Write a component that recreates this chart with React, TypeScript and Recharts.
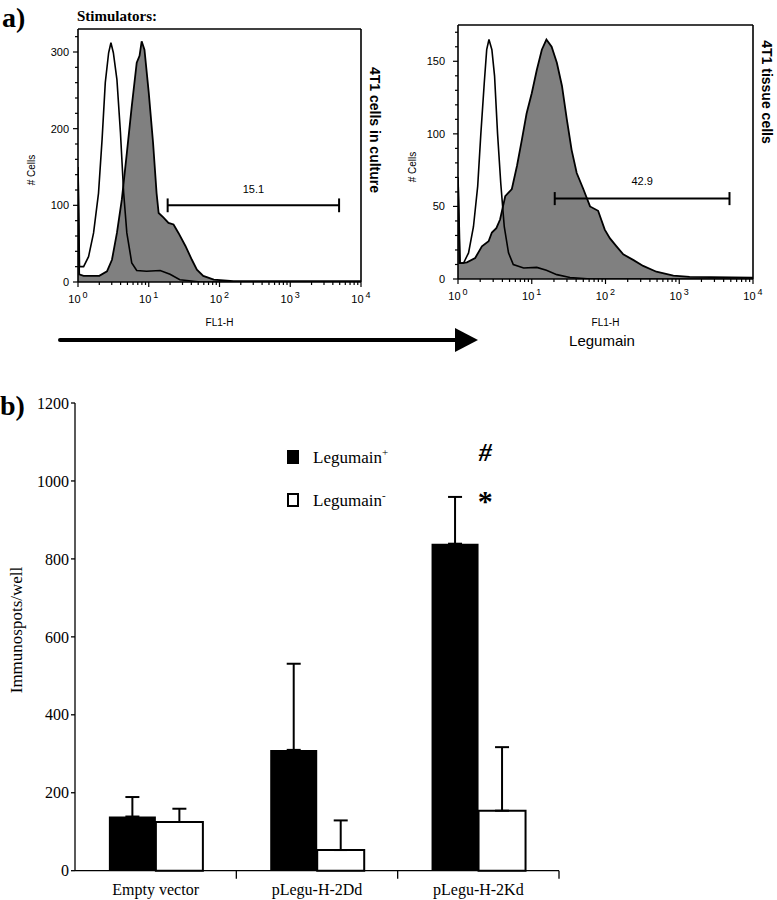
import React from 'react'
import {
  ComposedChart, Area, Line, XAxis, YAxis, ReferenceLine, ReferenceDot,
  BarChart, Bar, ErrorBar, Legend,
} from 'recharts'

const SANS = '"Liberation Sans", Arial, sans-serif'
const SERIF = '"Liberation Serif", "Times New Roman", serif'

// ---- panel a: FACS histograms (FL1-H value, # cells) ----
// 4T1 cells in culture
const cultureCtrlX = [1, 1.05, 1.2, 1.41, 1.66, 1.95, 2.19, 2.43, 2.71, 2.92, 3.16, 3.55, 3.98, 4.42, 4.9, 5.75, 6.76, 9.3, 14.5, 20, 27.5, 54, 10000]
const cultureCtrlY = [150, 20, 20, 33, 64, 116, 186, 260, 299, 312, 299, 264, 195, 116, 64, 25, 15, 14, 15, 10, 3, 0, 0]
const cultureStainX = [1, 1.04, 1.2, 2.0, 2.57, 3.02, 3.55, 4.17, 4.9, 5.75, 6.76, 7.41, 7.94, 8.7, 10, 11.5, 12.9, 13.8, 16.2, 19, 22.4, 26.3, 33, 40.7, 47.9, 58.9, 83, 158, 10000]
const cultureStainY = [150, 10, 8, 8, 14, 29, 64, 108, 168, 229, 286, 295, 314, 303, 247, 182, 116, 90, 84, 77, 75, 64, 47, 29, 16, 8, 3, 1, 1]

// 4T1 tissue cells
const tissueCtrlX = [1, 1.07, 1.19, 1.39, 1.62, 1.85, 2.04, 2.27, 2.45, 2.63, 2.88, 3.13, 3.44, 3.8, 4.24, 4.84, 5.62, 7.76, 11.7, 15.8, 21.9, 33, 63, 10000]
const tissueCtrlY = [70, 11, 11, 18, 36, 64, 100, 135, 158, 165, 158, 140, 100, 66, 36, 18, 10, 7.6, 8, 6, 3, 1, 0, 0]
const tissueStainX = [1, 1.05, 1.13, 1.32, 1.71, 2.11, 2.6, 2.88, 3.31, 3.72, 4.37, 5.37, 6.31, 7.35, 8.51, 10, 11.7, 13.7, 15.8, 18.6, 21.9, 25.7, 29.9, 34.7, 40.7, 50, 61.7, 79.4, 97.7, 115, 141, 174, 240, 324, 490, 832, 1380, 10000]
const tissueStainY = [70, 11, 11, 11.5, 14.5, 22.5, 26, 32, 35, 41, 57, 62, 78, 96, 114, 128, 144, 158, 165, 160, 149, 133, 110, 89, 73, 62, 50, 47, 34, 28, 22.5, 17, 13, 9, 5, 2.3, 1.4, 1]

const decades = [1, 10, 100, 1000, 10000]
const logTicks = decades.flatMap((d, i) =>
  i === decades.length - 1 ? [d] : [1, 2, 3, 4, 5, 6, 7, 8, 9].map((m) => m * d)
)

const cultureYTicks = [0, 20, 40, 60, 80, 100, 120, 140, 160, 180, 200, 220, 240, 260, 280, 300, 320]
const tissueYTicks = [0, 10, 20, 30, 40, 50, 60, 70, 80, 90, 100, 110, 120, 130, 140, 150, 160, 170]

// ---- panel b: ELISPOT ----
const categories = ['Empty vector', 'pLegu-H-2Dd', 'pLegu-H-2Kd']
const legPos = [139, 310, 839]
const legPosErr = [50, 221, 120]
const legNeg = [125, 53, 154]
const legNegErr = [34, 76, 163]
const spotTicks = [0, 200, 400, 600, 800, 1000, 1200]

const barData = categories.map((name, i) => ({
  name,
  pos: legPos[i],
  posErr: [0, legPosErr[i]],
  neg: legNeg[i],
  negErr: [0, legNegErr[i]],
}))

function mergeSeries(cx: number[], cy: number[], sx: number[], sy: number[]) {
  const rows = new Map<number, any>()
  cx.forEach((x, i) => rows.set(x, { x, ctrl: cy[i], stain: null }))
  sx.forEach((x, i) => {
    const r = rows.get(x) ?? { x, ctrl: null }
    r.stain = sy[i]
    rows.set(x, r)
  })
  return [...rows.values()].sort((a, b) => a.x - b.x)
}

const cultureData = mergeSeries(cultureCtrlX, cultureCtrlY, cultureStainX, cultureStainY)
const tissueData = mergeSeries(tissueCtrlX, tissueCtrlY, tissueStainX, tissueStainY)

const LogTick = (props: any) => {
  const { x, y, payload } = props
  const e = Math.log10(payload.value)
  const major = Math.abs(e - Math.round(e)) < 1e-6
  return (
    <g>
      <line x1={x} y1={y} x2={x} y2={y + (major ? 5 : 3)} stroke="#000" strokeWidth={1.2} />
      {major && (
        <text x={x} y={y + 21} textAnchor="middle" fontSize={11} fontFamily={SANS} fill="#000">
          10<tspan dx={2} dy={-5} fontSize={9}>{Math.round(e)}</tspan>
        </text>
      )}
    </g>
  )
}

const CountTick = (props: any) => {
  const { x, y, payload, majorStep, gap } = props
  const major = payload.value % majorStep === 0
  return (
    <g>
      <line x1={x} y1={y} x2={x - (major ? 5 : 3)} y2={y} stroke="#000" strokeWidth={1.2} />
      {major && (
        <text x={x - gap} y={y + 4} textAnchor="end" fontSize={11} fontFamily={SANS} fill="#000">
          {payload.value}
        </text>
      )}
    </g>
  )
}

interface FacsProps {
  data: any[]
  width: number
  margin: { top: number; right: number; bottom: number; left: number }
  yAxisWidth: number
  yMax: number
  yTicks: number[]
  majorStep: number
  gap: number
  gateFrom: number
  gateTo: number
  gateY: number
  capHalf: number
  gateLabel: string
  labelOffset: number
  xLabelOffset: number
}

function FacsPlot(p: FacsProps) {
  return (
    <ComposedChart width={p.width} height={340} data={p.data} margin={p.margin}>
      <XAxis
        dataKey="x" type="number" scale="log" domain={[1, 10000]} ticks={logTicks} interval={0}
        allowDataOverflow tickLine={false} tickSize={0} tickMargin={0} height={50}
        axisLine={{ stroke: '#000', strokeWidth: 1.6 }}
        tick={(t: any) => <LogTick {...t} />}
        label={{ value: 'FL1-H', position: 'insideBottom', offset: p.xLabelOffset, fontSize: 10, fill: '#000', fontFamily: SANS }}
      />
      <YAxis
        type="number" domain={[0, p.yMax]} ticks={p.yTicks} interval={0} allowDataOverflow
        tickLine={false} tickSize={0} tickMargin={0} width={p.yAxisWidth}
        axisLine={{ stroke: '#000', strokeWidth: 1.6 }}
        tick={(t: any) => <CountTick {...t} majorStep={p.majorStep} gap={p.gap} />}
      />
      <ReferenceLine y={p.yMax} stroke="#000" strokeWidth={1.6} />
      <ReferenceLine x={10000} stroke="#000" strokeWidth={1.6} />
      <Area
        dataKey="stain" type="linear" fill="#808080" fillOpacity={1} stroke="#000" strokeWidth={1.8}
        connectNulls dot={false} activeDot={false} isAnimationActive={false}
      />
      <Line
        dataKey="ctrl" type="linear" stroke="#000" strokeWidth={1.6}
        connectNulls dot={false} activeDot={false} isAnimationActive={false}
      />
      <ReferenceLine
        segment={[{ x: p.gateFrom, y: p.gateY }, { x: p.gateTo, y: p.gateY }]}
        stroke="#000" strokeWidth={2}
        label={{ value: p.gateLabel, position: 'top', offset: p.labelOffset, fontSize: 11, fill: '#000', fontFamily: SANS }}
      />
      <ReferenceLine segment={[{ x: p.gateFrom, y: p.gateY - p.capHalf }, { x: p.gateFrom, y: p.gateY + p.capHalf }]} stroke="#000" strokeWidth={2} />
      <ReferenceLine segment={[{ x: p.gateTo, y: p.gateY - p.capHalf }, { x: p.gateTo, y: p.gateY + p.capHalf }]} stroke="#000" strokeWidth={2} />
    </ComposedChart>
  )
}

const CategoryTick = (props: any) => {
  const { x, y, payload, width, visibleTicksCount } = props
  const half = payload.offset ?? width / visibleTicksCount / 2
  return (
    <g>
      <line x1={x + half} y1={y} x2={x + half} y2={y + 8} stroke="#000" strokeWidth={1.3} />
      <text x={x} y={y + 24} textAnchor="middle" fontSize={16} fontFamily={SERIF} fill="#000">
        {payload.value}
      </text>
    </g>
  )
}

const BarLegend = (props: any) => (
  <div style={{ fontFamily: SERIF, fontSize: 17, color: '#000' }}>
    {(props.payload || []).map((e: any, i: number) => (
      <div key={i} style={{ display: 'flex', alignItems: 'center', height: 43 }}>
        <span
          style={{
            display: 'inline-block', width: 12, height: 14, boxSizing: 'border-box',
            background: e.color, border: '2px solid #000', marginRight: 14,
          }}
        />
        <span>
          {String(e.value).slice(0, -1)}
          <sup style={{ fontSize: 11 }}>{String(e.value).slice(-1)}</sup>
        </span>
      </div>
    ))}
  </div>
)

function SpotsChart() {
  return (
    <BarChart
      width={600} height={510} data={barData}
      margin={{ top: 13, right: 41, bottom: 0, left: 0 }}
      barGap={0} barCategoryGap="21%"
    >
      <XAxis
        dataKey="name" height={29.3} interval={0} tickLine={false} tickSize={0} tickMargin={0}
        axisLine={{ stroke: '#000', strokeWidth: 1.3 }}
        tick={(t: any) => <CategoryTick {...t} />}
      />
      <YAxis
        domain={[0, 1200]} ticks={spotTicks} interval={0} width={75} tickSize={4} tickMargin={2}
        axisLine={{ stroke: '#000', strokeWidth: 1.3 }} tickLine={{ stroke: '#000', strokeWidth: 1.3 }}
        tick={{ fill: '#000', fontSize: 16, fontFamily: SERIF }}
      />
      <Legend
        layout="vertical" align="center" verticalAlign="middle"
        wrapperStyle={{ left: 287, top: 45, width: 200 }}
        content={(lp: any) => <BarLegend {...lp} />}
      />
      <Bar dataKey="pos" name="Legumain+" fill="#000" isAnimationActive={false}>
        <ErrorBar dataKey="posErr" direction="y" width={7} strokeWidth={2} stroke="#000" />
      </Bar>
      <Bar dataKey="neg" name="Legumain-" fill="#fff" stroke="#000" strokeWidth={2} isAnimationActive={false}>
        <ErrorBar dataKey="negErr" direction="y" width={7} strokeWidth={2} stroke="#000" />
      </Bar>
      <ReferenceDot
        x="pLegu-H-2Kd" y={1075} r={0}
        shape={(d: any) => (
          <text x={d.cx + 7} y={d.cy + 9} textAnchor="middle" fontSize={26} fontWeight="bold" fontStyle="italic" fontFamily={SERIF} fill="#000">#</text>
        )}
      />
      <ReferenceDot
        x="pLegu-H-2Kd" y={965} r={0}
        shape={(d: any) => (
          <text x={d.cx + 7} y={d.cy + 16} textAnchor="middle" fontSize={30} fontWeight="bold" fontFamily={SERIF} fill="#000">*</text>
        )}
      />
    </BarChart>
  )
}

export default function App() {
  return (
    <div style={{ position: 'absolute', left: 0, top: 0, width: 777, height: 900, background: '#fff' }}>
      <div style={{ position: 'absolute', left: 0, top: 0 }}>
        <FacsPlot
          data={cultureData} width={390} margin={{ top: 29, right: 29, bottom: 8, left: 0 }}
          yAxisWidth={78} yMax={330} yTicks={cultureYTicks} majorStep={100} gap={9}
          gateFrom={18.5} gateTo={4900} gateY={100} capHalf={9} gateLabel="15.1" labelOffset={12}
          xLabelOffset={6}
        />
      </div>
      <div style={{ position: 'absolute', left: 390, top: 0 }}>
        <FacsPlot
          data={tissueData} width={387} margin={{ top: 25, right: 24, bottom: 11, left: 0 }}
          yAxisWidth={68} yMax={175} yTicks={tissueYTicks} majorStep={50} gap={13}
          gateFrom={20.5} gateTo={4800} gateY={55.4} capHalf={4.5} gateLabel="42.9" labelOffset={14}
          xLabelOffset={3}
        />
      </div>
      <div style={{ position: 'absolute', left: 0, top: 390 }}>
        <SpotsChart />
      </div>
      <svg width={777} height={900} style={{ position: 'absolute', left: 0, top: 0, pointerEvents: 'none' }}>
        <text x={2} y={27} fontSize={28} fontWeight="bold" fontFamily={SERIF} fill="#000">a)</text>
        <text x={77} y={21} fontSize={15} fontWeight="bold" fontFamily={SERIF} fill="#000">Stimulators:</text>
        <text transform="rotate(-90 32 170)" x={32} y={173} textAnchor="middle" fontSize={10} fontFamily={SANS} fill="#000"># Cells</text>
        <text transform="rotate(-90 413 167)" x={413} y={170} textAnchor="middle" fontSize={10} fontFamily={SANS} fill="#000"># Cells</text>
        <text transform="rotate(90 375 130)" x={375} y={135} textAnchor="middle" fontSize={14} fontWeight="bold" fontFamily={SANS} fill="#000">4T1 cells in culture</text>
        <text transform="rotate(90 767 92)" x={767} y={97} textAnchor="middle" fontSize={14} fontWeight="bold" fontFamily={SANS} fill="#000">4T1 tissue cells</text>
        <line x1={60} y1={340} x2={458} y2={340} stroke="#000" strokeWidth={4} strokeLinecap="round" />
        <polygon points="455,328 478,340 455,352" fill="#000" />
        <text x={602} y={346} textAnchor="middle" fontSize={15} fontFamily={SANS} fill="#000">Legumain</text>
        <text x={0} y={415} fontSize={28} fontWeight="bold" fontFamily={SERIF} fill="#000">b)</text>
        <text transform="rotate(-90 16 630)" x={16} y={636} textAnchor="middle" fontSize={17} fontFamily={SERIF} fill="#000">Immunospots/well</text>
      </svg>
    </div>
  )
}
